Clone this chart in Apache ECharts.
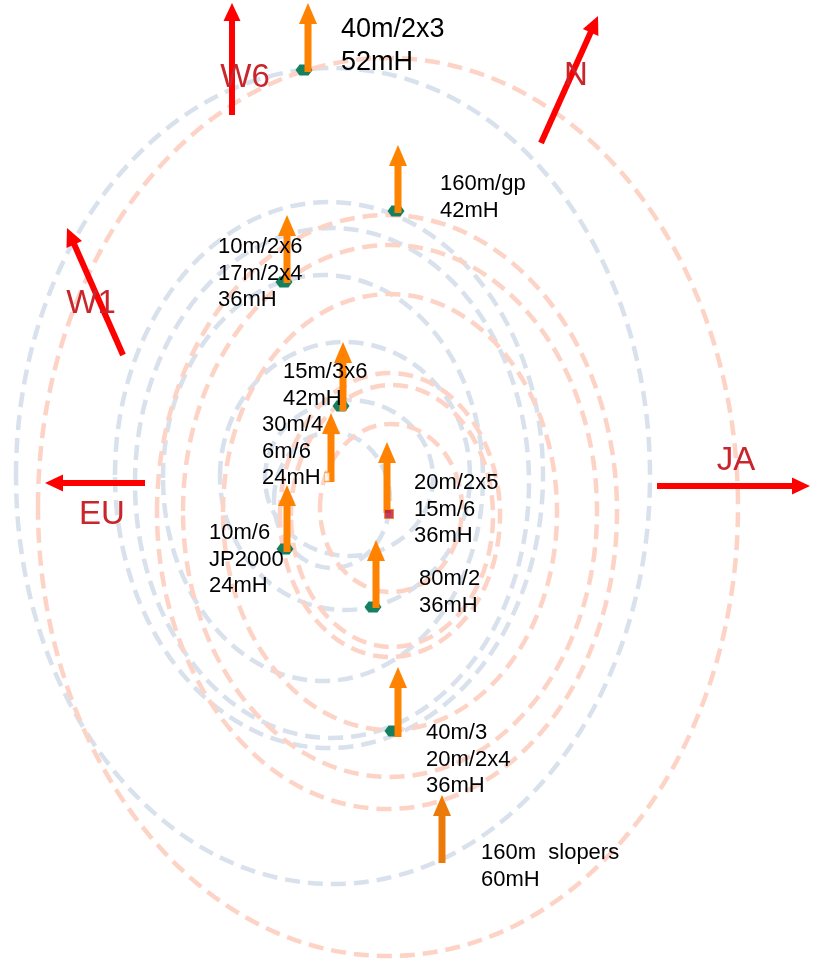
<!DOCTYPE html>
<html><head><meta charset="utf-8">
<script src="https://cdn.jsdelivr.net/npm/echarts@6/dist/echarts.min.js"></script>
<style>html,body{margin:0;padding:0;background:#fff}#c{width:814px;height:961px}</style>
</head><body><div id="c"></div>
<script>
// ellipses: [cx, cy, rx, ry]
const blueEllipses = [
  [333, 476, 317, 408],
  [329, 475, 214, 273],
  [332, 483, 197, 255],
  [323, 478, 160, 203],
  [345, 476, 125, 134],
  [349, 478, 84, 78],
  [332, 500, 58, 68]
];
const pinkEllipses = [
  [388, 507, 350, 449],
  [387, 512, 230, 297],
  [390, 511, 207, 266],
  [390, 512, 167, 218],
  [390, 515, 110, 142],
  [392, 516, 101, 131],
  [391, 508, 71, 84]
];
// antennas (vertical orange arrows)
const antennaX    = [308, 398, 287, 343, 331, 287, 387, 376, 398, 442];
const antennaBase = [72, 213, 283, 411, 482, 552, 513, 608, 737, 863];
const antennaTip  = [3, 145, 215, 342, 413, 485, 442, 540, 667, 795];
const antennaLabels = [
  "40m/2x3\n52mH", "160m/gp\n42mH", "10m/2x6\n17m/2x4\n36mH", "15m/3x6\n42mH",
  "30m/4\n6m/6\n24mH", "20m/2x5\n15m/6\n36mH", "10m/6\nJP2000\n24mH",
  "80m/2\n36mH", "40m/3\n20m/2x4\n36mH", "160m  slopers\n60mH"
];
const labelX = [341, 440, 218, 283, 262, 414, 209, 419, 426, 481];
const labelY = [30, 184, 247, 372, 425, 483, 533, 579, 733, 853];
// feed points
const feedX = [304, 396, 284, 341, 285, 373, 393];
const feedY = [70, 211, 282, 406, 549, 607, 731];
const redFeed = [[389, 514]];
const hollowFeed = [[327, 477]];
// beam directions
const beamNames = ["W6", "N", "W1", "EU", "JA"];
const beamFrom = [[232, 115], [541, 143], [123, 355], [145, 483], [657, 486]];
const beamTo   = [[232, 3], [598, 16], [67, 228], [45, 483], [810, 486]];
const beamLabelPos = [[245, 78], [576, 76], [91, 304], [102, 515], [736, 461]];

const chart = echarts.init(document.getElementById('c'));

function ellipseSeries(list, color, z) {
  return {
    type: 'custom', coordinateSystem: 'cartesian2d', z: z, clip: false, silent: true,
    data: list,
    renderItem: function (params, api) {
      const c = api.coord([api.value(0), api.value(1)]);
      const s = api.size([api.value(2), api.value(3)]);
      return {
        type: 'ellipse',
        shape: { cx: c[0], cy: c[1], rx: Math.abs(s[0]), ry: Math.abs(s[1]) },
        style: { fill: 'none', stroke: color, lineWidth: 4.5, lineDash: [15, 8] }
      };
    }
  };
}

function arrowGroup(p0, p1, shaftW, headL, headW, color) {
  const dx = p1[0] - p0[0], dy = p1[1] - p0[1];
  const len = Math.hypot(dx, dy);
  const ux = dx / len, uy = dy / len, px = -uy, py = ux;
  const bx = p1[0] - ux * headL, by = p1[1] - uy * headL;
  return {
    type: 'group', children: [
      { type: 'line', shape: { x1: p0[0], y1: p0[1], x2: bx + ux, y2: by + uy }, style: { stroke: color, lineWidth: shaftW } },
      { type: 'polygon', shape: { points: [[p1[0], p1[1]], [bx + px * headW / 2, by + py * headW / 2], [bx - px * headW / 2, by - py * headW / 2]] }, style: { fill: color } }
    ]
  };
}

const antennaData = antennaX.map((x, i) => [x, antennaBase[i], antennaTip[i]]);
const beamData = beamFrom.map((f, i) => [f[0], f[1], beamTo[i][0], beamTo[i][1]]);
const feedData = feedX.map((x, i) => [x, feedY[i]]);
const labelData = labelX.map((x, i) => [x, labelY[i], i]);
const beamLabelData = beamLabelPos.map((p, i) => [p[0], p[1], i]);

const option = {
  animation: false,
  backgroundColor: '#ffffff',
  grid: { left: 0, right: 0, top: 0, bottom: 0 },
  xAxis: { type: 'value', min: 0, max: 814, show: false },
  yAxis: { type: 'value', min: 0, max: 961, inverse: true, show: false },
  series: [
    ellipseSeries(blueEllipses, '#d8e1ec', 1),
    ellipseSeries(pinkEllipses, '#fdd3c6', 2),
    {
      type: 'scatter', z: 3, silent: true,
      symbol: 'path://M4,0 L13,0 L17,5.5 L13,11 L4,11 L0,5.5 Z', symbolSize: [17, 11],
      itemStyle: { color: '#15805f', opacity: 1 },
      data: feedData
    },
    {
      type: 'custom', coordinateSystem: 'cartesian2d', z: 4, clip: false, silent: true,
      data: antennaData,
      renderItem: function (params, api) {
        const x = api.value(0);
        const p0 = api.coord([x, api.value(1)]);
        const p1 = api.coord([x, api.value(2)]);
        const color = params.dataIndex === antennaData.length - 1 ? '#ec7a08' : '#ff8200';
        return arrowGroup(p0, p1, 7, 21, 18, color);
      }
    },
    {
      type: 'scatter', z: 5, silent: true,
      symbol: 'rect', symbolSize: 9,
      itemStyle: { color: '#b8143e', borderColor: '#ff8200', borderWidth: 1 },
      data: redFeed
    },
    {
      type: 'scatter', z: 5, silent: true,
      symbol: 'rect', symbolSize: [5, 9],
      itemStyle: { color: '#ffffff', borderColor: '#ff9a30', borderWidth: 1 },
      data: hollowFeed
    },
    {
      type: 'custom', coordinateSystem: 'cartesian2d', z: 6, clip: false, silent: true,
      data: beamData,
      renderItem: function (params, api) {
        const p0 = api.coord([api.value(0), api.value(1)]);
        const p1 = api.coord([api.value(2), api.value(3)]);
        return arrowGroup(p0, p1, 6, 18, 17, '#ff0000');
      }
    },
    {
      type: 'custom', coordinateSystem: 'cartesian2d', z: 7, clip: false, silent: true,
      data: labelData,
      renderItem: function (params, api) {
        const i = api.value(2);
        const c = api.coord([api.value(0), api.value(1)]);
        const big = i === 0;
        const lh = big ? 33 : 26.5;
        const lines = antennaLabels[i].split('\n');
        return {
          type: 'group',
          children: lines.map((t, k) => ({
            type: 'text', x: c[0], y: c[1] + k * lh,
            style: {
              text: t, fill: '#000000', fontSize: big ? 27 : 22,
              fontFamily: '"Liberation Sans", Arial, sans-serif',
              align: 'left', verticalAlign: 'middle'
            }
          }))
        };
      }
    },
    {
      type: 'custom', coordinateSystem: 'cartesian2d', z: 7, clip: false, silent: true,
      data: beamLabelData,
      renderItem: function (params, api) {
        const i = api.value(2);
        const c = api.coord([api.value(0), api.value(1)]);
        return {
          type: 'text', x: c[0], y: c[1],
          style: {
            text: beamNames[i], fill: '#c8262c', fontSize: 33,
            fontFamily: '"Liberation Sans", Arial, sans-serif',
            align: 'center', verticalAlign: 'middle'
          }
        };
      }
    }
  ]
};
chart.setOption(option);
</script>
</body></html>
